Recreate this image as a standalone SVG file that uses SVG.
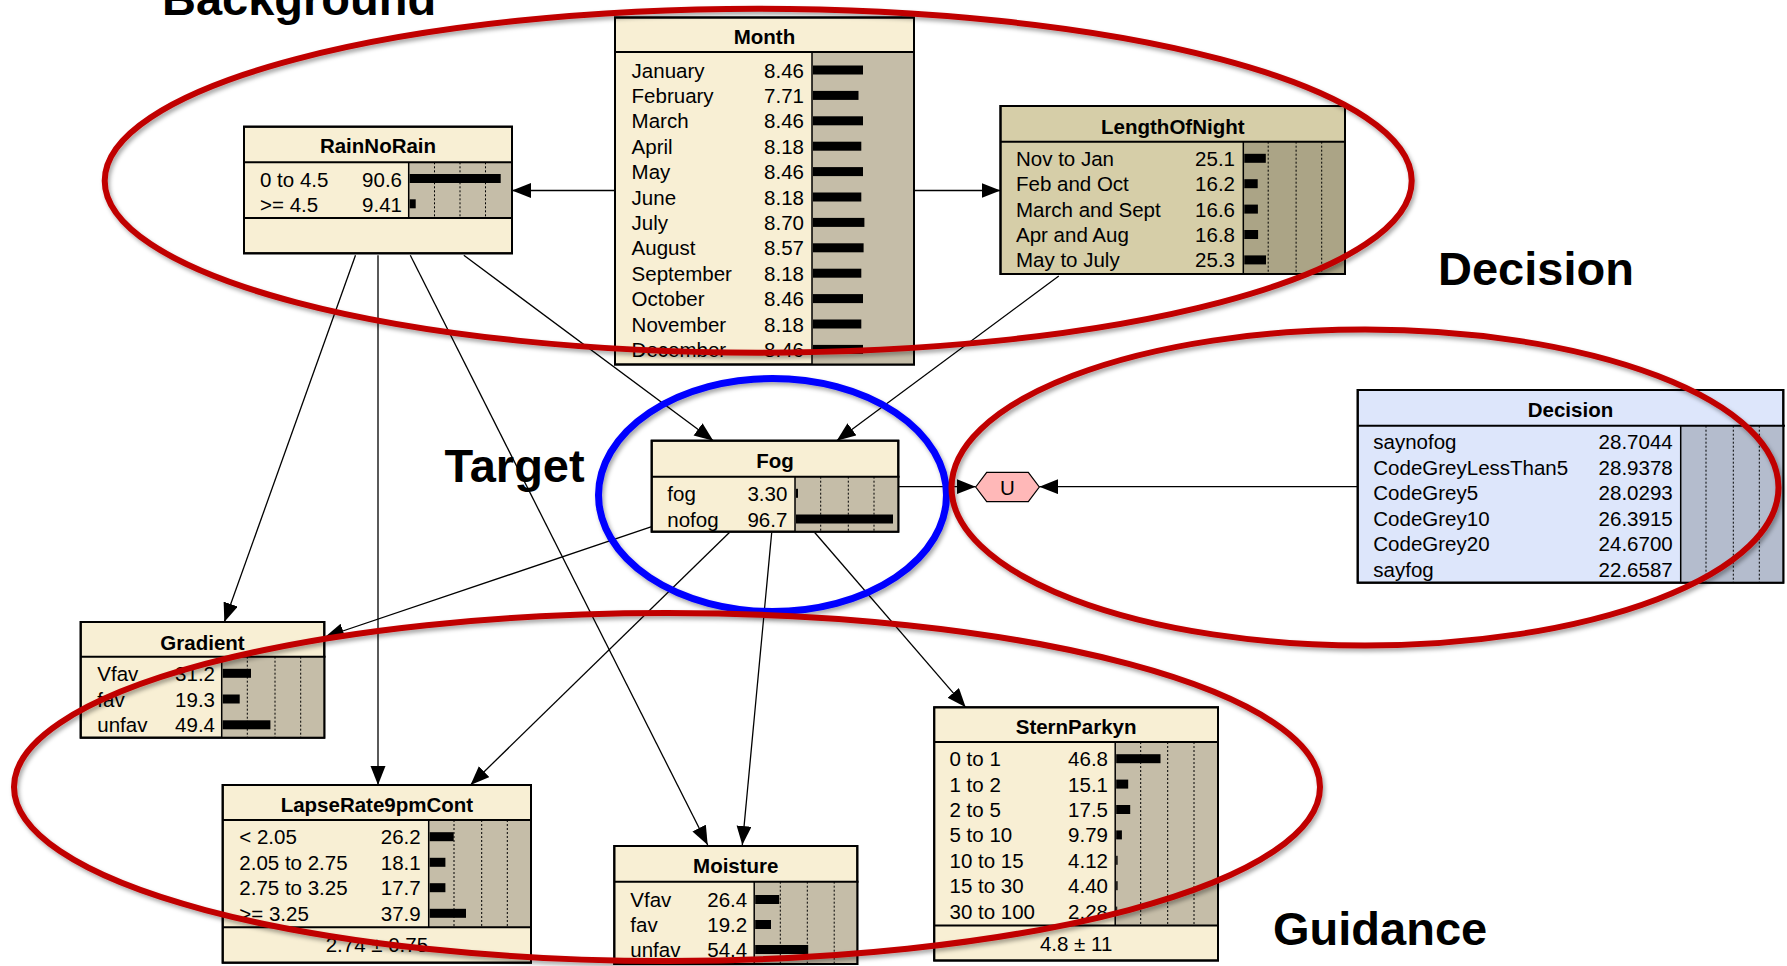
<svg xmlns="http://www.w3.org/2000/svg" width="1787" height="966" viewBox="0 0 1787 966">
<defs>
<style>
.box{fill:#f8efd4;stroke:#000;stroke-width:2}
.ba{fill:#c5bda8}
.lbox{fill:#d6cea8;stroke:#000;stroke-width:2}
.lba{fill:#aba486}
.dbox{fill:#dde6fb;stroke:#000;stroke-width:2}
.dba{fill:#b4bccd}
.sep{stroke:#000;stroke-width:2}
.div{stroke:#000;stroke-width:1.5}
.grid{stroke:#000;stroke-width:1;stroke-dasharray:2 2}
.bar{fill:#000}
.t{font-family:"Liberation Sans",Arial,sans-serif;font-size:20.5px;fill:#000}
.ti{font-weight:bold;text-anchor:middle}
.v{text-anchor:end}
.c{text-anchor:middle}
.big{font-family:"Liberation Sans",Arial,sans-serif;font-weight:bold;font-size:47px;fill:#000}
.edge{stroke:#000;stroke-width:1.3;fill:none;marker-end:url(#ah)}
.ring{fill:none;stroke:#c00000;stroke-width:6;filter:url(#sh)}
.bring{fill:none;stroke:#0000ff;stroke-width:7;filter:url(#sh)}
</style>
<marker id="ah" markerUnits="userSpaceOnUse" markerWidth="20" markerHeight="16" refX="19" refY="7.5" orient="auto">
<path d="M0,0 L19,7.5 L0,15 z" fill="#000"/>
</marker>
<filter id="sh" x="-5%" y="-5%" width="110%" height="115%">
<feDropShadow dx="2" dy="3" stdDeviation="2" flood-color="#000" flood-opacity="0.35"/>
</filter>
</defs>
<rect width="1787" height="966" fill="#fff"/>

<g id="edges">
<line class="edge" x1="615" y1="190.5" x2="512" y2="190.5"/>
<line class="edge" x1="914" y1="190.5" x2="1000.5" y2="190.5"/>
<line class="edge" x1="355.5" y1="255.3" x2="224.3" y2="622"/>
<line class="edge" x1="378" y1="255.3" x2="378" y2="785"/>
<line class="edge" x1="410.3" y1="255.3" x2="707.7" y2="845"/>
<line class="edge" x1="463.8" y1="255.3" x2="713.3" y2="440.7"/>
<line class="edge" x1="1058.8" y1="276" x2="836.7" y2="440.7"/>
<line class="edge" x1="651.7" y1="526.7" x2="325" y2="637"/>
<line class="edge" x1="729.4" y1="532.5" x2="470.5" y2="785"/>
<line class="edge" x1="771.7" y1="532.5" x2="742.3" y2="845"/>
<line class="edge" x1="814.7" y1="532.5" x2="965.7" y2="707.3"/>
<line class="edge" x1="898.3" y1="486.7" x2="975.7" y2="486.7"/>
<line class="edge" x1="1357.7" y1="486.7" x2="1039.3" y2="486.7"/>
</g>

<g id="RainNoRain">
<rect class="box" x="244" y="126.7" width="268" height="126.6"/>
<rect class="ba" x="408.7" y="162.3" width="103.3" height="55.7"/>
<line class="grid" x1="434.5" y1="162.3" x2="434.5" y2="218"/>
<line class="grid" x1="460" y1="162.3" x2="460" y2="218"/>
<line class="grid" x1="485.5" y1="162.3" x2="485.5" y2="218"/>
<rect class="bar" x="409.7" y="174" width="91" height="9"/>
<rect class="bar" x="409.7" y="199.3" width="6" height="9"/>
<line class="div" x1="408.7" y1="162.3" x2="408.7" y2="218"/>
<line class="sep" x1="244" y1="162.3" x2="513" y2="162.3"/>
<line class="sep" x1="244" y1="218" x2="513" y2="218"/>
<rect x="244" y="126.7" width="268" height="126.6" fill="none" stroke="#000" stroke-width="2"/>
<text class="t ti" x="378" y="153">RainNoRain</text>
<text class="t" x="260" y="186.5">0 to 4.5</text><text class="t v" x="402" y="186.5">90.6</text>
<text class="t" x="260" y="211.8">&gt;= 4.5</text><text class="t v" x="402" y="211.8">9.41</text>
</g>

<g id="Month">
<rect class="box" x="615" y="17.5" width="299" height="347"/>
<rect class="ba" x="812" y="52" width="102" height="312.5"/>
<line class="div" x1="812" y1="52" x2="812" y2="364.5"/>
<line class="sep" x1="615" y1="52" x2="915" y2="52"/>
<rect class="bar" x="813" y="65.5" width="50" height="9"/>
<rect class="bar" x="813" y="90.9" width="45.5" height="9"/>
<rect class="bar" x="813" y="116.3" width="50" height="9"/>
<rect class="bar" x="813" y="141.7" width="48.3" height="9"/>
<rect class="bar" x="813" y="167.1" width="50" height="9"/>
<rect class="bar" x="813" y="192.5" width="48.3" height="9"/>
<rect class="bar" x="813" y="217.9" width="51.4" height="9"/>
<rect class="bar" x="813" y="243.3" width="50.6" height="9"/>
<rect class="bar" x="813" y="268.7" width="48.3" height="9"/>
<rect class="bar" x="813" y="294.1" width="50" height="9"/>
<rect class="bar" x="813" y="319.5" width="48.3" height="9"/>
<rect class="bar" x="813" y="344.9" width="50" height="9"/>
<rect x="615" y="17.5" width="299" height="347" fill="none" stroke="#000" stroke-width="2"/>
<text class="t ti" x="764.5" y="44">Month</text>
<text class="t" x="631.6" y="77.5">January</text><text class="t v" x="804" y="77.5">8.46</text>
<text class="t" x="631.6" y="102.9">February</text><text class="t v" x="804" y="102.9">7.71</text>
<text class="t" x="631.6" y="128.3">March</text><text class="t v" x="804" y="128.3">8.46</text>
<text class="t" x="631.6" y="153.7">April</text><text class="t v" x="804" y="153.7">8.18</text>
<text class="t" x="631.6" y="179.1">May</text><text class="t v" x="804" y="179.1">8.46</text>
<text class="t" x="631.6" y="204.5">June</text><text class="t v" x="804" y="204.5">8.18</text>
<text class="t" x="631.6" y="229.9">July</text><text class="t v" x="804" y="229.9">8.70</text>
<text class="t" x="631.6" y="255.3">August</text><text class="t v" x="804" y="255.3">8.57</text>
<text class="t" x="631.6" y="280.7">September</text><text class="t v" x="804" y="280.7">8.18</text>
<text class="t" x="631.6" y="306.1">October</text><text class="t v" x="804" y="306.1">8.46</text>
<text class="t" x="631.6" y="331.5">November</text><text class="t v" x="804" y="331.5">8.18</text>
<text class="t" x="631.6" y="356.9">December</text><text class="t v" x="804" y="356.9">8.46</text>
</g>

<g id="LengthOfNight">
<rect class="lbox" x="1000.5" y="106" width="344.5" height="168"/>
<rect class="lba" x="1243.3" y="141.7" width="101.7" height="132.3"/>
<line class="grid" x1="1268.2" y1="141.7" x2="1268.2" y2="274"/>
<line class="grid" x1="1296.1" y1="141.7" x2="1296.1" y2="274"/>
<line class="grid" x1="1321.7" y1="141.7" x2="1321.7" y2="274"/>
<rect class="bar" x="1244.3" y="153.8" width="21.5" height="9"/>
<rect class="bar" x="1244.3" y="179.2" width="13.4" height="9"/>
<rect class="bar" x="1244.3" y="204.6" width="13.6" height="9"/>
<rect class="bar" x="1244.3" y="230" width="13.8" height="9"/>
<rect class="bar" x="1244.3" y="255.4" width="21.7" height="9"/>
<line class="div" x1="1243.3" y1="141.7" x2="1243.3" y2="274"/>
<line class="sep" x1="1000.5" y1="141.7" x2="1346" y2="141.7"/>
<rect x="1000.5" y="106" width="344.5" height="168" fill="none" stroke="#000" stroke-width="2"/>
<text class="t ti" x="1172.8" y="133.5">LengthOfNight</text>
<text class="t" x="1016" y="165.8">Nov to Jan</text><text class="t v" x="1235" y="165.8">25.1</text>
<text class="t" x="1016" y="191.2">Feb and Oct</text><text class="t v" x="1235" y="191.2">16.2</text>
<text class="t" x="1016" y="216.6">March and Sept</text><text class="t v" x="1235" y="216.6">16.6</text>
<text class="t" x="1016" y="242">Apr and Aug</text><text class="t v" x="1235" y="242">16.8</text>
<text class="t" x="1016" y="267.4">May to July</text><text class="t v" x="1235" y="267.4">25.3</text>
</g>

<g id="Fog">
<rect class="box" x="651.7" y="440.7" width="246.6" height="91"/>
<rect class="ba" x="795" y="476.7" width="103.3" height="55"/>
<line class="grid" x1="820.7" y1="476.7" x2="820.7" y2="531.7"/>
<line class="grid" x1="848.3" y1="476.7" x2="848.3" y2="531.7"/>
<line class="grid" x1="874" y1="476.7" x2="874" y2="531.7"/>
<rect class="bar" x="796" y="488.8" width="2" height="9"/>
<rect class="bar" x="796" y="514.5" width="97" height="9"/>
<line class="div" x1="795" y1="476.7" x2="795" y2="531.7"/>
<line class="sep" x1="651.7" y1="476.7" x2="899.5" y2="476.7"/>
<rect x="651.7" y="440.7" width="246.6" height="91" fill="none" stroke="#000" stroke-width="2"/>
<text class="t ti" x="775" y="467.5">Fog</text>
<text class="t" x="667.3" y="500.8">fog</text><text class="t v" x="787.3" y="500.8">3.30</text>
<text class="t" x="667.3" y="526.5">nofog</text><text class="t v" x="787.3" y="526.5">96.7</text>
</g>

<g id="U">
<polygon points="975.7,487 986.7,472.3 1028.3,472.3 1039.3,487 1028.3,501.7 986.7,501.7" fill="#ffb8b8" stroke="#000" stroke-width="1.2"/>
<text class="t c" x="1007.5" y="495">U</text>
</g>

<g id="Decision">
<rect class="dbox" x="1357.7" y="390" width="425.6" height="192.7"/>
<rect class="dba" x="1680.7" y="425.7" width="102.6" height="157"/>
<line class="grid" x1="1706" y1="425.7" x2="1706" y2="582.7"/>
<line class="grid" x1="1733.3" y1="425.7" x2="1733.3" y2="582.7"/>
<line class="grid" x1="1759.3" y1="425.7" x2="1759.3" y2="582.7"/>
<line class="div" x1="1680.7" y1="425.7" x2="1680.7" y2="582.7"/>
<line class="sep" x1="1357.7" y1="425.7" x2="1785" y2="425.7"/>
<rect x="1357.7" y="390" width="425.6" height="192.7" fill="none" stroke="#000" stroke-width="2"/>
<text class="t ti" x="1570.5" y="416.8">Decision</text>
<text class="t" x="1373.3" y="449.2">saynofog</text><text class="t v" x="1672.7" y="449.2">28.7044</text>
<text class="t" x="1373.3" y="474.7">CodeGreyLessThan5</text><text class="t v" x="1672.7" y="474.7">28.9378</text>
<text class="t" x="1373.3" y="500.2">CodeGrey5</text><text class="t v" x="1672.7" y="500.2">28.0293</text>
<text class="t" x="1373.3" y="525.7">CodeGrey10</text><text class="t v" x="1672.7" y="525.7">26.3915</text>
<text class="t" x="1373.3" y="551.2">CodeGrey20</text><text class="t v" x="1672.7" y="551.2">24.6700</text>
<text class="t" x="1373.3" y="576.7">sayfog</text><text class="t v" x="1672.7" y="576.7">22.6587</text>
</g>

<g id="Gradient">
<rect class="box" x="80.7" y="622" width="243.6" height="115.7"/>
<rect class="ba" x="221.7" y="656.7" width="102.6" height="81"/>
<line class="grid" x1="247.3" y1="656.7" x2="247.3" y2="737.7"/>
<line class="grid" x1="275" y1="656.7" x2="275" y2="737.7"/>
<line class="grid" x1="300.7" y1="656.7" x2="300.7" y2="737.7"/>
<rect class="bar" x="222.7" y="668.8" width="28.3" height="9"/>
<rect class="bar" x="222.7" y="694.5" width="17" height="9"/>
<rect class="bar" x="222.7" y="720.3" width="47.7" height="9"/>
<line class="div" x1="221.7" y1="656.7" x2="221.7" y2="737.7"/>
<line class="sep" x1="80.7" y1="656.7" x2="325.5" y2="656.7"/>
<rect x="80.7" y="622" width="243.6" height="115.7" fill="none" stroke="#000" stroke-width="2"/>
<text class="t ti" x="202.5" y="649.8">Gradient</text>
<text class="t" x="97.3" y="680.8">Vfav</text><text class="t v" x="215" y="680.8">31.2</text>
<text class="t" x="97.3" y="706.5">fav</text><text class="t v" x="215" y="706.5">19.3</text>
<text class="t" x="97.3" y="732.3">unfav</text><text class="t v" x="215" y="732.3">49.4</text>
</g>

<g id="LapseRate9pmCont">
<rect class="box" x="222.7" y="785" width="308.3" height="177.7"/>
<rect class="ba" x="428.7" y="820" width="102.3" height="107.3"/>
<line class="grid" x1="454" y1="820" x2="454" y2="927.3"/>
<line class="grid" x1="481.7" y1="820" x2="481.7" y2="927.3"/>
<line class="grid" x1="507.3" y1="820" x2="507.3" y2="927.3"/>
<rect class="bar" x="429.7" y="832.2" width="24" height="9"/>
<rect class="bar" x="429.7" y="857.8" width="15.7" height="9"/>
<rect class="bar" x="429.7" y="883.2" width="15.7" height="9"/>
<rect class="bar" x="429.7" y="908.8" width="36.3" height="9"/>
<line class="div" x1="428.7" y1="820" x2="428.7" y2="927.3"/>
<line class="sep" x1="222.7" y1="820" x2="532" y2="820"/>
<line class="sep" x1="222.7" y1="927.3" x2="532" y2="927.3"/>
<rect x="222.7" y="785" width="308.3" height="177.7" fill="none" stroke="#000" stroke-width="2"/>
<text class="t ti" x="376.9" y="811.8">LapseRate9pmCont</text>
<text class="t" x="239.3" y="844.2">&lt; 2.05</text><text class="t v" x="420.7" y="844.2">26.2</text>
<text class="t" x="239.3" y="869.8">2.05 to 2.75</text><text class="t v" x="420.7" y="869.8">18.1</text>
<text class="t" x="239.3" y="895.2">2.75 to 3.25</text><text class="t v" x="420.7" y="895.2">17.7</text>
<text class="t" x="239.3" y="920.8">&gt;= 3.25</text><text class="t v" x="420.7" y="920.8">37.9</text>
<text class="t c" x="376.9" y="952">2.74 ± 0.75</text>
</g>

<g id="Moisture">
<rect class="box" x="614.3" y="846" width="243" height="118"/>
<rect class="ba" x="754.2" y="881.7" width="103.1" height="82.3"/>
<line class="grid" x1="780.3" y1="881.7" x2="780.3" y2="964"/>
<line class="grid" x1="807.3" y1="881.7" x2="807.3" y2="964"/>
<line class="grid" x1="834.2" y1="881.7" x2="834.2" y2="964"/>
<rect class="bar" x="755.2" y="895" width="24" height="9"/>
<rect class="bar" x="755.2" y="920" width="15.8" height="9"/>
<rect class="bar" x="755.2" y="945" width="53" height="9"/>
<line class="div" x1="754.2" y1="881.7" x2="754.2" y2="964"/>
<line class="sep" x1="614.3" y1="881.7" x2="858.5" y2="881.7"/>
<rect x="614.3" y="846" width="243" height="118" fill="none" stroke="#000" stroke-width="2"/>
<text class="t ti" x="735.8" y="873">Moisture</text>
<text class="t" x="630.3" y="907">Vfav</text><text class="t v" x="747.2" y="907">26.4</text>
<text class="t" x="630.3" y="932">fav</text><text class="t v" x="747.2" y="932">19.2</text>
<text class="t" x="630.3" y="957">unfav</text><text class="t v" x="747.2" y="957">54.4</text>
</g>

<g id="SternParkyn">
<rect class="box" x="934.2" y="707.3" width="283.8" height="253.2"/>
<rect class="ba" x="1115.2" y="742" width="102.8" height="183.5"/>
<line class="grid" x1="1140.7" y1="742" x2="1140.7" y2="925.5"/>
<line class="grid" x1="1167.7" y1="742" x2="1167.7" y2="925.5"/>
<line class="grid" x1="1194" y1="742" x2="1194" y2="925.5"/>
<rect class="bar" x="1116.2" y="754.2" width="44.3" height="9"/>
<rect class="bar" x="1116.2" y="779.6" width="12" height="9"/>
<rect class="bar" x="1116.2" y="805" width="14" height="9"/>
<rect class="bar" x="1116.2" y="830.4" width="5.7" height="9"/>
<rect class="bar" x="1116.2" y="855.8" width="1.4" height="9"/>
<rect class="bar" x="1116.2" y="881.2" width="1.4" height="9"/>
<rect class="bar" x="1116.2" y="906.6" width="1" height="9"/>
<line class="div" x1="1115.2" y1="742" x2="1115.2" y2="925.5"/>
<line class="sep" x1="934.2" y1="742" x2="1219" y2="742"/>
<line class="sep" x1="934.2" y1="925.5" x2="1219" y2="925.5"/>
<rect x="934.2" y="707.3" width="283.8" height="253.2" fill="none" stroke="#000" stroke-width="2"/>
<text class="t ti" x="1076.1" y="734.2">SternParkyn</text>
<text class="t" x="949.5" y="766.2">0 to 1</text><text class="t v" x="1108" y="766.2">46.8</text>
<text class="t" x="949.5" y="791.6">1 to 2</text><text class="t v" x="1108" y="791.6">15.1</text>
<text class="t" x="949.5" y="817">2 to 5</text><text class="t v" x="1108" y="817">17.5</text>
<text class="t" x="949.5" y="842.4">5 to 10</text><text class="t v" x="1108" y="842.4">9.79</text>
<text class="t" x="949.5" y="867.8">10 to 15</text><text class="t v" x="1108" y="867.8">4.12</text>
<text class="t" x="949.5" y="893.2">15 to 30</text><text class="t v" x="1108" y="893.2">4.40</text>
<text class="t" x="949.5" y="918.6">30 to 100</text><text class="t v" x="1108" y="918.6">2.28</text>
<text class="t c" x="1076.1" y="950.8">4.8 ± 11</text>
</g>

<g id="groups">
<ellipse class="bring" cx="772.5" cy="495" rx="174" ry="116.5"/>
<ellipse class="ring" cx="758.2" cy="180.7" rx="653.5" ry="172"/>
<ellipse class="ring" cx="1365" cy="487.5" rx="413.5" ry="158"/>
<ellipse class="ring" cx="667" cy="787" rx="653" ry="174"/>
</g>

<g id="labels">
<text class="big" x="162" y="15">Background</text>
<text class="big" x="1438" y="285">Decision</text>
<text class="big" x="444.5" y="482">Target</text>
<text class="big" x="1273" y="945">Guidance</text>
</g>
</svg>
